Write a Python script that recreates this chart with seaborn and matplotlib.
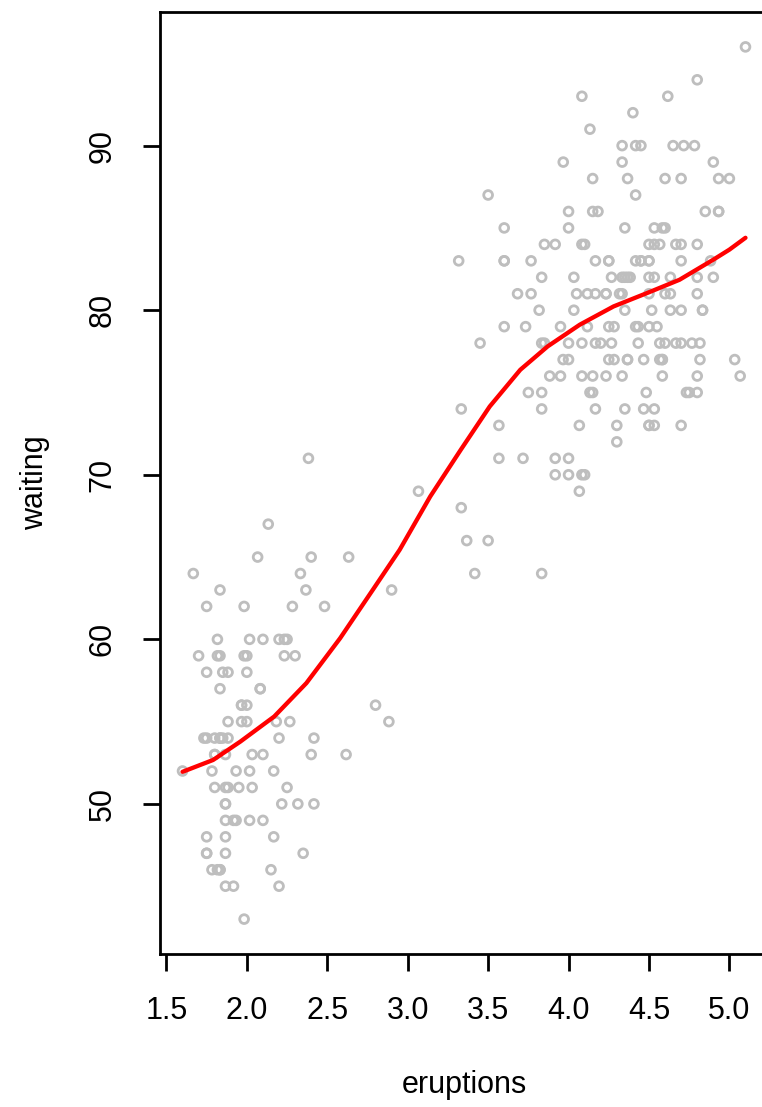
import matplotlib
matplotlib.use('Agg')
import matplotlib.pyplot as plt
import pandas as pd
import seaborn as sns

# Old Faithful geyser data (eruption length in minutes, waiting time in minutes)
eruptions = [
    3.600, 1.800, 3.333, 2.283, 4.533, 2.883, 4.700, 3.600, 1.950, 4.350,
    1.833, 3.917, 4.200, 1.750, 4.700, 2.167, 1.750, 4.800, 1.600, 4.250,
    1.800, 1.750, 3.450, 3.067, 4.533, 3.600, 1.967, 4.083, 3.850, 4.433,
    4.300, 4.467, 3.367, 4.033, 3.833, 2.017, 1.867, 4.833, 1.833, 4.783,
    4.350, 1.883, 4.567, 1.750, 4.533, 3.317, 3.833, 2.100, 4.633, 2.000,
    4.800, 4.716, 1.833, 4.833, 1.733, 4.883, 3.717, 1.667, 4.567, 4.317,
    2.233, 4.500, 1.750, 4.800, 1.817, 4.400, 4.167, 4.700, 2.067, 4.700,
    4.033, 1.967, 4.500, 4.000, 1.983, 5.067, 2.017, 4.567, 3.883, 3.600,
    4.133, 4.333, 4.100, 2.633, 4.067, 4.933, 3.950, 4.517, 2.167, 4.000,
    2.200, 4.333, 1.867, 4.817, 1.833, 4.300, 4.667, 3.750, 1.867, 4.900,
    2.483, 4.367, 2.100, 4.500, 4.050, 1.867, 4.700, 1.783, 4.850, 3.683,
    4.733, 2.300, 4.900, 4.417, 1.700, 4.633, 2.317, 4.600, 1.817, 4.417,
    2.617, 4.067, 4.250, 1.967, 4.600, 3.767, 1.917, 4.500, 2.267, 4.650,
    1.867, 4.167, 2.800, 4.333, 1.833, 4.383, 1.883, 4.933, 2.033, 3.733,
    4.233, 2.233, 4.533, 4.817, 4.333, 1.983, 4.633, 2.017, 5.100, 1.800,
    5.033, 4.000, 2.400, 4.600, 3.567, 4.000, 4.500, 4.083, 1.800, 3.967,
    2.200, 4.150, 2.000, 3.833, 3.500, 4.583, 2.367, 5.000, 1.933, 4.617,
    1.917, 2.083, 4.583, 3.333, 4.167, 4.333, 4.500, 2.417, 4.000, 4.167,
    1.883, 4.583, 4.250, 3.767, 2.033, 4.433, 4.083, 1.833, 4.417, 2.183,
    4.800, 1.833, 4.800, 4.100, 3.966, 4.233, 3.500, 4.366, 2.250, 4.667,
    2.100, 4.350, 4.133, 1.867, 4.600, 1.783, 4.367, 3.850, 1.933, 4.500,
    2.383, 4.700, 1.867, 3.833, 3.417, 4.233, 2.400, 4.800, 2.000, 4.150,
    1.867, 4.267, 1.750, 4.483, 4.000, 4.117, 4.083, 4.267, 3.917, 4.550,
    4.083, 2.417, 4.183, 2.217, 4.450, 1.883, 1.850, 4.283, 3.950, 2.333,
    4.150, 2.350, 4.933, 2.900, 4.583, 3.833, 2.083, 4.367, 2.133, 4.350,
    2.200, 4.450, 3.567, 4.500, 4.150, 3.817, 3.917, 4.450, 2.000, 4.283,
    4.767, 4.533, 1.850, 4.250, 1.983, 2.250, 4.750, 4.117, 2.150, 4.417,
    1.817, 4.467,
]
waiting = [
    79, 54, 74, 62, 85, 55, 88, 85, 51, 85,
    54, 84, 78, 47, 83, 52, 62, 84, 52, 79,
    51, 47, 78, 69, 74, 83, 55, 76, 78, 79,
    73, 77, 66, 80, 74, 52, 48, 80, 59, 90,
    80, 58, 84, 58, 73, 83, 64, 53, 82, 59,
    75, 90, 54, 80, 54, 83, 71, 64, 77, 81,
    59, 84, 48, 82, 60, 92, 78, 78, 65, 73,
    82, 56, 79, 71, 62, 76, 60, 78, 76, 83,
    75, 82, 70, 65, 73, 88, 76, 80, 48, 86,
    60, 90, 50, 78, 63, 72, 84, 75, 51, 82,
    62, 88, 49, 83, 81, 47, 84, 52, 86, 81,
    75, 59, 89, 79, 59, 81, 50, 85, 59, 87,
    53, 69, 77, 56, 88, 81, 45, 82, 55, 90,
    45, 83, 56, 89, 46, 82, 51, 86, 53, 79,
    81, 60, 82, 77, 76, 59, 80, 49, 96, 53,
    77, 77, 65, 81, 71, 70, 81, 93, 53, 89,
    45, 86, 58, 78, 66, 76, 63, 88, 52, 93,
    49, 57, 77, 68, 81, 81, 73, 50, 85, 74,
    55, 77, 83, 83, 51, 78, 84, 46, 83, 55,
    81, 57, 76, 84, 77, 81, 87, 77, 51, 78,
    60, 82, 91, 53, 78, 46, 77, 84, 49, 83,
    71, 80, 49, 75, 64, 76, 53, 94, 55, 76,
    50, 82, 54, 75, 78, 79, 78, 78, 70, 79,
    70, 54, 86, 50, 90, 54, 54, 77, 79, 64,
    75, 47, 86, 63, 85, 82, 57, 82, 67, 74,
    54, 83, 73, 73, 88, 80, 71, 83, 56, 79,
    78, 84, 58, 83, 43, 60, 75, 81, 46, 90,
    46, 74,
]

# smoothed trend
smooth_x = [1.60, 1.79, 1.96, 2.17, 2.37, 2.58, 2.79, 2.95, 3.14, 3.33,
            3.51, 3.70, 3.87, 4.07, 4.28, 4.49, 4.69, 4.90, 5.00, 5.10]
smooth_y = [51.95, 52.67, 53.79, 55.31, 57.34, 60.07, 63.11, 65.44, 68.68, 71.52,
            74.15, 76.38, 77.80, 79.12, 80.23, 81.05, 81.85, 83.07, 83.68, 84.40]

df = pd.DataFrame({'eruptions': eruptions, 'waiting': waiting})
df_smooth = pd.DataFrame({'eruptions': smooth_x, 'waiting': smooth_y})

sns.set_style('white')
plt.rcParams['font.family'] = ['Liberation Sans', 'DejaVu Sans']
plt.rcParams['text.color'] = 'black'
plt.rcParams['axes.labelcolor'] = 'black'
plt.rcParams['xtick.color'] = 'black'
plt.rcParams['ytick.color'] = 'black'

fig = plt.figure(figsize=(7.62, 11.07), dpi=100)
ax = fig.add_axes([160 / 762, 153 / 1107, 608 / 762, 942 / 1107])

sns.scatterplot(data=df, x='eruptions', y='waiting', ax=ax, marker='o', s=40,
                facecolor='none', edgecolor='#bebebe', linewidth=2.0)
sns.lineplot(data=df_smooth, x='eruptions', y='waiting', ax=ax, color='#ff0000',
             linewidth=3.1, estimator=None, sort=True,
             solid_joinstyle='round', solid_capstyle='round')

ax.set_xlim(1.46, 5.24)
ax.set_ylim(40.88, 98.12)
ax.set_xticks([1.5, 2.0, 2.5, 3.0, 3.5, 4.0, 4.5, 5.0])
ax.set_xticklabels(['1.5', '2.0', '2.5', '3.0', '3.5', '4.0', '4.5', '5.0'])
ax.set_yticks([50, 60, 70, 80, 90])

for side in ['left', 'top', 'bottom', 'right']:
    ax.spines[side].set_color('black')
    ax.spines[side].set_linewidth(2)

ax.tick_params(axis='both', direction='out', length=12.5, width=2, color='black',
               labelcolor='black', labelsize=22, pad=18, bottom=True, left=True)
for lab in ax.get_yticklabels():
    lab.set_rotation(90)
    lab.set_va('center')

ax.set_xlabel('eruptions', fontsize=22, color='black')
ax.set_ylabel('waiting', fontsize=22, color='black')
ax.xaxis.set_label_coords(0.5, (954 - 1085) / 942)
ax.xaxis.label.set_va('center')
ax.yaxis.set_label_coords((35 - 160) / 608, 0.5)
ax.yaxis.label.set_va('center')

fig.savefig('out.png', dpi=100)
